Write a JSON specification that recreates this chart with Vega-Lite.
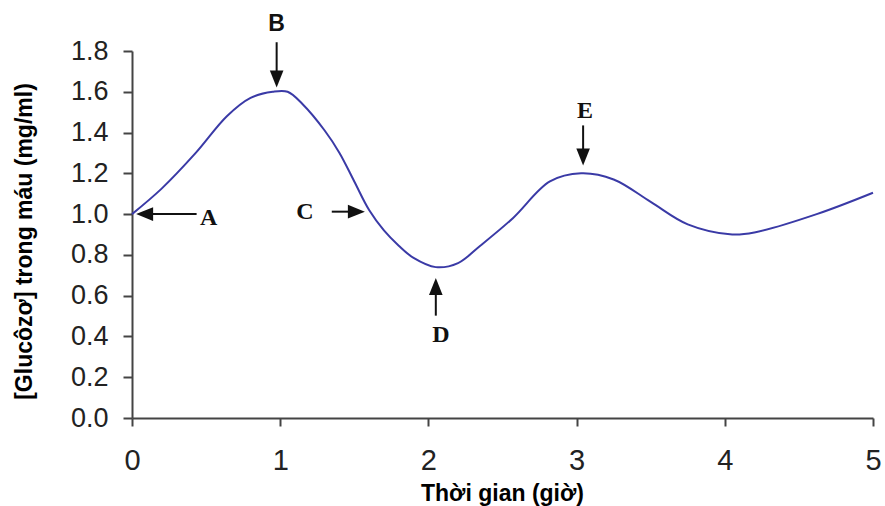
{
  "$schema": "https://vega.github.io/schema/vega-lite/v6.json",
  "autosize": {"type": "none"},
  "padding": {"left": 132, "top": 51, "right": 12, "bottom": 88},
  "width": 741,
  "height": 367,
  "background": "white",
  "config": {"view": {"stroke": null}},
  "datasets": {
    "curve": [
      {"t": 0, "g": 1.0},
      {"t": 0.2, "g": 1.125},
      {"t": 0.43, "g": 1.3},
      {"t": 0.64, "g": 1.48},
      {"t": 0.8, "g": 1.57},
      {"t": 0.95, "g": 1.6},
      {"t": 1.05, "g": 1.6},
      {"t": 1.15, "g": 1.54},
      {"t": 1.3, "g": 1.41},
      {"t": 1.4, "g": 1.3},
      {"t": 1.5, "g": 1.16},
      {"t": 1.6, "g": 1.02},
      {"t": 1.7, "g": 0.92},
      {"t": 1.8, "g": 0.845},
      {"t": 1.9, "g": 0.785},
      {"t": 2.05, "g": 0.74},
      {"t": 2.2, "g": 0.76},
      {"t": 2.35, "g": 0.845},
      {"t": 2.57, "g": 0.98},
      {"t": 2.82, "g": 1.16},
      {"t": 3.03, "g": 1.2},
      {"t": 3.25, "g": 1.17},
      {"t": 3.5, "g": 1.06},
      {"t": 3.75, "g": 0.95},
      {"t": 4.05, "g": 0.9},
      {"t": 4.2, "g": 0.91},
      {"t": 4.62, "g": 1.0},
      {"t": 5.0, "g": 1.105}
    ],
    "shafts": [
      {"label": "A", "x1": 0.1, "x2": 0.436, "y1": 1.0, "y2": 1.0},
      {"label": "B", "x1": 0.976, "x2": 0.976, "y1": 1.843, "y2": 1.663},
      {"label": "C", "x1": 1.348, "x2": 1.514, "y1": 1.012, "y2": 1.012},
      {"label": "D", "x1": 2.05, "x2": 2.05, "y1": 0.502, "y2": 0.645},
      {"label": "E", "x1": 3.044, "x2": 3.044, "y1": 1.435, "y2": 1.28}
    ],
    "heads": [
      {"label": "A", "x": 0.085, "y": 1.0, "dir": "left"},
      {"label": "B", "x": 0.976, "y": 1.663, "dir": "down"},
      {"label": "C", "x": 1.514, "y": 1.012, "dir": "right"},
      {"label": "D", "x": 2.05, "y": 0.645, "dir": "up"},
      {"label": "E", "x": 3.044, "y": 1.28, "dir": "down"}
    ],
    "letters": [
      {"label": "A", "x": 0.517, "y": 0.983, "kind": "serif"},
      {"label": "B", "x": 0.976, "y": 1.933, "kind": "sans"},
      {"label": "C", "x": 1.166, "y": 1.012, "kind": "serif"},
      {"label": "D", "x": 2.084, "y": 0.409, "kind": "serif"},
      {"label": "E", "x": 3.057, "y": 1.508, "kind": "serif"}
    ]
  },
  "layer": [
    {
      "data": {"name": "curve"},
      "mark": {"type": "line", "interpolate": "catmull-rom", "color": "#3a3aa6", "strokeWidth": 2},
      "encoding": {
        "x": {
          "field": "t", "type": "quantitative", "title": "Thời gian (giờ)",
          "scale": {"domain": [0, 5], "nice": false, "zero": false},
          "axis": {
            "values": [0, 1, 2, 3, 4, 5],
            "format": "d",
            "grid": false,
            "labelFlush": false,
            "domainColor": "#444", "domainWidth": 2,
            "tickColor": "#444", "tickWidth": 2, "tickSize": 8,
            "labelFont": "Liberation Sans", "labelFontSize": 29, "labelColor": "#222",
            "labelPadding": 20,
            "titleFont": "Liberation Sans", "titleFontSize": 23, "titleFontWeight": "bold", "titleColor": "#000",
            "titleY": 82, "titleBaseline": "alphabetic", "titleX": 370, "titleAlign": "center"
          }
        },
        "y": {
          "field": "g", "type": "quantitative", "title": "[Glucôzơ] trong máu (mg/ml)",
          "scale": {"domain": [0, 1.8], "nice": false},
          "axis": {
            "values": [0, 0.2, 0.4, 0.6, 0.8, 1.0, 1.2, 1.4, 1.6, 1.8],
            "format": ".1f",
            "grid": false,
            "labelFlush": false,
            "domainColor": "#444", "domainWidth": 2,
            "tickColor": "#444", "tickWidth": 2, "tickSize": 9,
            "labelFont": "Liberation Sans", "labelFontSize": 27, "labelColor": "#222",
            "labelPadding": 15,
            "titleFont": "Liberation Sans", "titleFontSize": 23, "titleFontWeight": "bold", "titleColor": "#000",
            "titleAngle": -90, "titleX": -108, "titleY": 190, "titleAlign": "center", "titleBaseline": "middle"
          }
        }
      }
    },
    {
      "data": {"name": "shafts"},
      "mark": {"type": "rule", "color": "#111", "strokeWidth": 2},
      "encoding": {
        "x": {"field": "x1", "type": "quantitative", "title": "Thời gian (giờ)"},
        "x2": {"field": "x2"},
        "y": {"field": "y1", "type": "quantitative", "title": "[Glucôzơ] trong máu (mg/ml)"},
        "y2": {"field": "y2"}
      }
    },
    {
      "data": {"name": "heads"},
      "mark": {"type": "point", "filled": true, "color": "#111", "opacity": 1, "size": 289, "strokeWidth": 0},
      "encoding": {
        "x": {"field": "x", "type": "quantitative", "title": "Thời gian (giờ)"},
        "y": {"field": "y", "type": "quantitative", "title": "[Glucôzơ] trong máu (mg/ml)"},
        "shape": {
          "field": "dir", "type": "nominal", "legend": null,
          "scale": {
            "domain": ["left", "right", "up", "down"],
            "range": ["M-1,0L1,-0.8L1,0.8Z", "M1,0L-1,-0.8L-1,0.8Z", "M0,-1L-0.8,1L0.8,1Z", "M0,1L-0.8,-1L0.8,-1Z"]
          }
        }
      }
    },
    {
      "data": {"name": "letters"},
      "transform": [{"filter": "datum.kind === 'serif'"}],
      "mark": {"type": "text", "font": "Liberation Serif", "fontWeight": "bold", "fontSize": 24, "color": "#111", "align": "center", "baseline": "middle"},
      "encoding": {
        "x": {"field": "x", "type": "quantitative", "title": "Thời gian (giờ)"},
        "y": {"field": "y", "type": "quantitative", "title": "[Glucôzơ] trong máu (mg/ml)"},
        "text": {"field": "label"}
      }
    },
    {
      "data": {"name": "letters"},
      "transform": [{"filter": "datum.kind === 'sans'"}],
      "mark": {"type": "text", "font": "Liberation Sans", "fontWeight": "bold", "fontSize": 23, "color": "#111", "align": "center", "baseline": "middle"},
      "encoding": {
        "x": {"field": "x", "type": "quantitative", "title": "Thời gian (giờ)"},
        "y": {"field": "y", "type": "quantitative", "title": "[Glucôzơ] trong máu (mg/ml)"},
        "text": {"field": "label"}
      }
    }
  ]
}
